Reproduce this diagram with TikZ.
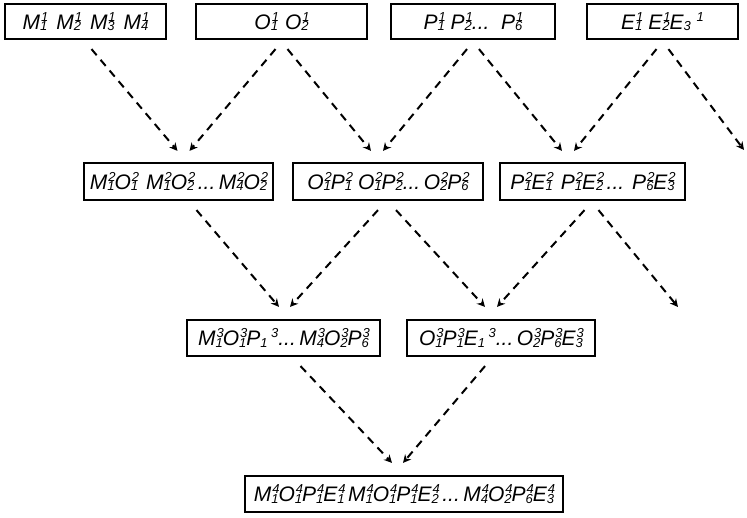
\documentclass[tikz,border=0pt]{standalone}
\usepackage{fontspec}
\setmainfont{Liberation Sans}
\usetikzlibrary{arrows.meta}
% script size and stacked indices
\newcommand{\scr}{\fontsize{13}{13}\selectfont}
\newcommand{\subx}[1]{\raisebox{-1.5pt}{\scr #1}}
\newcommand{\supx}[1]{\raisebox{8pt}{\scr #1}}
\newcommand{\sv}[3]{#1\rlap{\kern1pt\supx{#3}}\subx{#2}}
\newcommand{\gap}{\hspace{9pt}}
\tikzset{
  box/.style={draw, line width=2.2pt, inner sep=0pt, minimum height=35pt,
    font=\fontsize{21}{24}\selectfont\itshape},
  flow/.style={line width=2pt, dash pattern=on 8pt off 6pt,
    -{Stealth[length=8pt,width=8pt]}}
}
\begin{document}
\begin{tikzpicture}[x=1pt,y=-1pt]
\useasboundingbox (0,0) rectangle (747,517);
% first level
\node[box, minimum width=161pt] (A) at (85.5,21.5) {\sv{M}{1}{1}\gap\sv{M}{2}{1}\gap\sv{M}{3}{1}\gap\sv{M}{4}{1}};
\node[box, minimum width=171pt] (B) at (281.5,21.5) {\sv{O}{1}{1}\hspace{7pt}\sv{O}{2}{1}};
\node[box, minimum width=164pt] (C) at (473,21.5) {\sv{P}{1}{1} \sv{P}{2}{1}...\ \ \sv{P}{6}{1}};
\node[box, minimum width=151pt] (D) at (662.5,21.5) {\sv{E}{1}{1} \sv{E}{2}{1}E\subx{3}\ \supx{1}};
% second level
\node[box, minimum width=189pt, minimum height=37pt] (MO) at (178.5,181.5) {\sv{M}{1}{2}\sv{O}{1}{2}\hspace{8pt}\sv{M}{1}{2}\sv{O}{2}{2}\,...\,\sv{M}{4}{2}\sv{O}{2}{2}};
\node[box, minimum width=190pt, minimum height=37pt] (OP) at (388,181.5) {\sv{O}{1}{2}\sv{P}{1}{2} \sv{O}{1}{2}\sv{P}{2}{2}...\,\sv{O}{2}{2}\sv{P}{6}{2}};
\node[box, minimum width=185pt, minimum height=37pt] (PE) at (592.5,181.5) {\sv{P}{1}{2}\sv{E}{1}{2}\hspace{8pt}\sv{P}{1}{2}\sv{E}{2}{2}\,...\hspace{8pt}\sv{P}{6}{2}\sv{E}{3}{2}};
% third level
\node[box, minimum width=193pt, minimum height=36pt] (MOP) at (283.5,338) {\sv{M}{1}{3}\sv{O}{1}{3}P\subx{1}\,\supx{3}...\,\sv{M}{4}{3}\sv{O}{2}{3}\sv{P}{6}{3}};
\node[box, minimum width=188pt, minimum height=36pt] (OPE) at (501,338) {\sv{O}{1}{3}\sv{P}{1}{3}E\subx{1}\,\supx{3}...\,\sv{O}{2}{3}\sv{P}{6}{3}\sv{E}{3}{3}};
% fourth level
\node[box, minimum width=318pt, minimum height=36pt] (BOT) at (404,494) {\sv{M}{1}{4}\sv{O}{1}{4}\sv{P}{1}{4}\sv{E}{1}{4}\,\sv{M}{1}{4}\sv{O}{1}{4}\sv{P}{1}{4}\sv{E}{2}{4}\,...\,\sv{M}{4}{4}\sv{O}{2}{4}\sv{P}{6}{4}\sv{E}{3}{4}};
% open ends
\coordinate (offA) at (744,150);
\coordinate (offB) at (678,307);
% level 1 -> 2
\draw[flow] ([shift={(6,9)}]A.south) -- ([shift={(-1,-11)}]MO.north);
\draw[flow] ([shift={(-6,9)}]B.south) -- ([shift={(11,-11)}]MO.north);
\draw[flow] ([shift={(6,9)}]B.south) -- ([shift={(-17,-11)}]OP.north);
\draw[flow] ([shift={(-6,9)}]C.south) -- ([shift={(-5,-11)}]OP.north);
\draw[flow] ([shift={(6,9)}]C.south) -- ([shift={(-30.5,-11)}]PE.north);
\draw[flow] ([shift={(-6,9)}]D.south) -- ([shift={(-18.5,-11)}]PE.north);
\draw[flow] ([shift={(6,9)}]D.south) -- (offA);
% level 2 -> 3
\draw[flow] ([shift={(18,9)}]MO.south) -- ([shift={(-4.5,-12)}]MOP.north);
\draw[flow] ([shift={(-10,9)}]OP.south) -- ([shift={(6.5,-12)}]MOP.north);
\draw[flow] ([shift={(8,9)}]OP.south) -- ([shift={(-16,-12)}]OPE.north);
\draw[flow] ([shift={(-8,9)}]PE.south) -- ([shift={(-4,-12)}]OPE.north);
\draw[flow] ([shift={(6,9)}]PE.south) -- (offB);
% level 3 -> 4
\draw[flow] ([shift={(17,9)}]MOP.south) -- ([shift={(-12,-12)}]BOT.north);
\draw[flow] ([shift={(-16,9)}]OPE.south) -- ([shift={(-1,-12)}]BOT.north);
\end{tikzpicture}
\end{document}
